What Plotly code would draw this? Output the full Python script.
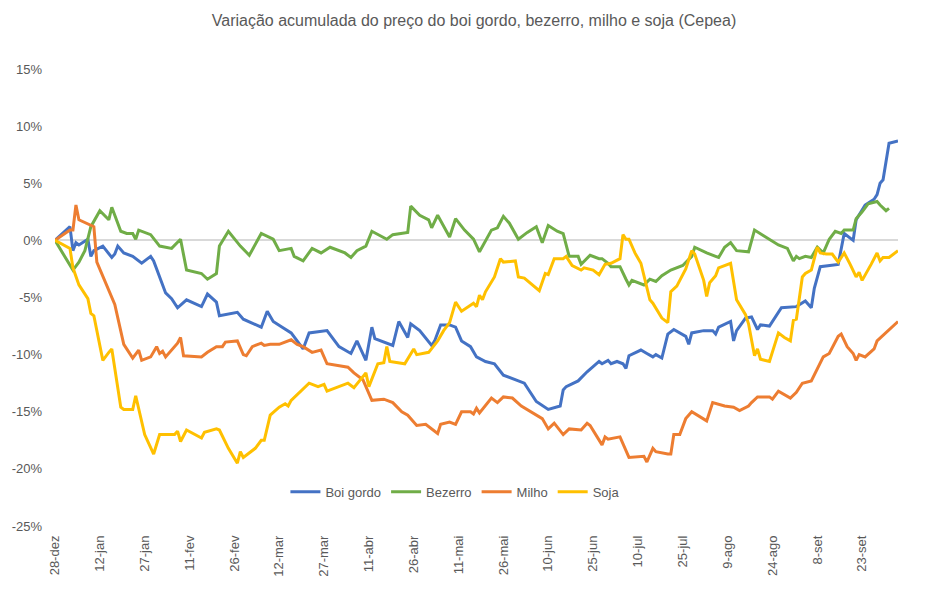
import pandas as pd
import plotly.graph_objects as go

# dias contados a partir de 28-dez
inicio = pd.Timestamp("2022-12-28")

dias_boi = [0, 5, 6, 7, 8, 11, 12, 13, 16, 19, 20, 21, 23, 26, 29, 32, 33, 37, 39, 41, 44, 49, 51, 54, 55,
            61, 63, 69, 71, 73, 76, 79, 83, 85, 91, 95, 99, 101, 104, 106, 107, 113, 115, 118, 119, 122,
            126, 127, 129, 132, 134, 136, 139, 141, 144, 147, 150, 157, 161, 165, 169, 170, 171, 175, 178,
            182, 183, 185, 186, 188, 190, 191, 192, 196, 198, 200, 201, 203, 205, 207, 211, 212, 213, 217,
            220, 221, 222, 226, 227, 228, 231, 233, 235, 236, 239, 243, 248, 251, 253, 254, 256, 262, 264,
            267, 268, 271, 274, 275, 276, 277, 279, 282]
boi_gordo = [0, 1.2, -0.9, -0.2, -0.4, 0.1, -1.4, -0.9, -0.5, -1.5, -1.2, -0.5, -1.1, -1.4, -2.0, -1.4, -1.8,
             -4.6, -5.1, -5.9, -5.2, -5.8, -4.7, -5.4, -6.6, -6.3, -6.9, -7.6, -6.2, -7.1, -7.6, -8.1, -9.5,
             -8.1, -7.9, -9.3, -9.9, -8.8, -10.5, -7.6, -8.6, -9.2, -7.1, -8.5, -7.3, -7.9, -9.2, -8.8, -7.4,
             -7.4, -7.6, -8.8, -9.3, -10.2, -10.6, -10.8, -11.8, -12.5, -14.1, -14.8, -14.5, -13.1, -12.8,
             -12.3, -11.5, -10.6, -10.8, -10.5, -10.8, -10.6, -10.8, -11.2, -10.1, -9.6, -9.9, -10.2, -10.0,
             -10.3, -8.2, -7.8, -8.4, -9.1, -8.1, -7.9, -7.9, -8.2, -7.6, -7.1, -8.8, -7.9, -6.8, -6.7, -7.8,
             -7.4, -7.5, -5.9, -5.8, -5.3, -5.9, -4.2, -2.3, -2.1, 0.6, 0.0, 1.8, 3.1, 3.6, 4.0, 5.0, 5.3,
             8.5, 8.7]

dias_bezerro = [0, 6, 8, 10, 12, 15, 18, 19, 22, 24, 26, 27, 28, 32, 35, 39, 42, 44, 49, 51, 54, 55, 58, 62,
                65, 69, 73, 75, 79, 80, 83, 86, 89, 92, 97, 99, 101, 104, 106, 111, 113, 118, 119, 122, 125,
                126, 128, 132, 134, 137, 140, 142, 146, 148, 150, 152, 155, 158, 161, 163, 165, 168, 170, 172,
                175, 176, 179, 182, 183, 185, 186, 189, 191, 192, 193, 197, 199, 201, 203, 206, 210, 213, 214,
                218, 221, 222, 224, 226, 228, 232, 234, 239, 242, 245, 247, 248, 249, 251, 253, 255, 257, 259,
                261, 263, 264, 267, 268, 270, 272, 275, 276, 278, 279]
bezerro = [0, -2.6, -1.9, -0.9, 1.2, 2.6, 1.8, 2.9, 0.8, 0.6, 0.6, 0.1, 0.9, 0.5, -0.5, -0.7, 0.1, -2.6, -2.9,
           -3.4, -2.9, -0.5, 0.8, -0.5, -1.3, 0.6, 0.1, -0.9, -0.7, -1.4, -1.8, -0.7, -1.1, -0.6, -1.1, -1.5,
           -0.9, -0.5, 0.8, 0.1, 0.5, 0.7, 3.0, 2.2, 1.8, 1.1, 2.2, 0.3, 1.9, 0.9, 0.1, -1.0, 0.9, 1.1, 2.1,
           1.5, 0.1, 0.7, 1.2, -0.2, 1.3, 0.8, 0.6, -1.4, -1.4, -2.1, -1.3, -1.6, -1.6, -2.0, -2.3, -2.3, -3.4,
           -3.9, -3.5, -3.9, -3.4, -3.6, -3.1, -2.6, -2.2, -1.4, -0.6, -1.1, -1.4, -1.5, -0.6, -0.2, -0.9,
           -1.0, 0.9, 0.1, -0.4, -0.7, -1.8, -1.4, -1.6, -1.4, -1.5, -0.6, -1.1, 0.1, 0.8, 0.6, 0.9, 0.9, 1.9,
           2.5, 3.2, 3.4, 3.1, 2.6, 2.8]

dias_milho = [0, 5, 6, 7, 8, 12, 13, 14, 16, 20, 23, 26, 28, 29, 32, 34, 35, 36, 37, 41, 42, 43, 49, 51, 54,
              56, 57, 61, 63, 64, 66, 69, 70, 72, 75, 77, 79, 81, 83, 86, 89, 91, 95, 98, 100, 103, 106, 110,
              113, 116, 118, 121, 124, 128, 129, 132, 134, 136, 139, 140, 141, 142, 146, 148, 150, 153, 156,
              161, 163, 165, 167, 170, 172, 176, 178, 179, 183, 184, 185, 189, 192, 197, 198, 200, 201, 205,
              206, 207, 209, 211, 213, 218, 220, 224, 227, 229, 232, 233, 235, 236, 239, 240, 242, 246, 248,
              250, 253, 257, 259, 262, 263, 265, 267, 268, 269, 271, 274, 275, 278, 282]
milho = [0, 0.9, 0.9, 3.1, 1.8, 1.3, 1.2, -1.9, -3.1, -5.6, -9.1, -10.3, -9.6, -10.5, -10.2, -9.3, -9.9, -9.7,
         -10.2, -9.0, -8.5, -10.1, -10.2, -9.8, -9.3, -9.3, -8.9, -8.8, -10.0, -10.1, -9.3, -9.0, -9.2, -9.1,
         -9.1, -8.9, -8.7, -9.1, -9.3, -9.8, -9.6, -10.8, -11.0, -11.1, -11.6, -12.2, -14.0, -13.9, -14.2,
         -15.0, -15.3, -16.2, -16.1, -16.9, -16.1, -15.9, -16.1, -15.0, -15.0, -15.2, -14.7, -15.1, -13.8,
         -14.2, -13.7, -13.8, -14.5, -15.3, -15.6, -16.5, -16.0, -17.0, -16.5, -16.6, -16.0, -16.2, -17.9,
         -17.2, -17.4, -17.2, -19.0, -18.9, -19.4, -18.2, -18.5, -18.7, -18.7, -17.0, -17.0, -15.6, -15.0,
         -15.8, -14.2, -14.5, -14.6, -14.9, -14.5, -14.2, -13.7, -13.7, -13.7, -13.9, -13.2, -13.8, -13.3,
         -12.5, -12.3, -10.2, -9.9, -8.4, -8.2, -9.3, -9.9, -10.5, -10.0, -10.2, -9.5, -8.8, -8.1, -7.1]

dias_soja = [0, 5, 6, 8, 11, 12, 13, 16, 18, 19, 22, 23, 26, 27, 30, 33, 35, 40, 41, 42, 44, 49, 50, 54, 55,
             57, 58, 61, 62, 63, 67, 69, 70, 72, 75, 77, 78, 79, 81, 85, 88, 90, 91, 94, 98, 100, 104, 105,
             108, 110, 111, 112, 117, 120, 121, 125, 128, 130, 132, 134, 136, 140, 141, 142, 143, 144, 147,
             149, 150, 154, 155, 157, 162, 164, 165, 167, 170, 171, 173, 176, 177, 180, 182, 184, 186, 189,
             190, 191, 192, 194, 196, 199, 200, 203, 205, 206, 208, 211, 213, 214, 217, 218, 219, 221, 222,
             226, 227, 228, 231, 232, 234, 235, 236, 239, 242, 244, 246, 247, 248, 250, 251, 253, 255, 256,
             258, 260, 262, 264, 266, 268, 269, 270, 273, 275, 276, 277, 279, 282]
soja = [0, -0.7, -2.4, -3.9, -5.1, -6.4, -6.6, -10.5, -9.8, -9.5, -14.6, -14.8, -14.8, -13.6, -17.0, -18.7,
        -17.0, -17.0, -16.7, -17.6, -16.6, -17.3, -16.8, -16.5, -16.6, -17.6, -18.2, -19.5, -18.5, -19.0,
        -18.2, -17.5, -17.5, -15.3, -14.6, -14.3, -14.5, -14.0, -13.5, -12.5, -12.8, -12.6, -13.2, -12.9,
        -12.5, -12.9, -11.6, -12.8, -10.8, -10.7, -9.3, -10.6, -10.8, -9.5, -10.0, -9.8, -8.8, -7.9, -7.2,
        -5.4, -6.2, -5.5, -5.8, -4.8, -5.2, -4.5, -3.2, -1.6, -1.9, -1.8, -3.2, -3.3, -4.4, -2.9, -3.0, -1.6,
        -1.6, -1.4, -2.2, -2.6, -2.4, -2.6, -3.0, -2.1, -2.0, -1.6, 0.5, 0.1, 0.1, -1.1, -2.0, -5.2, -5.5,
        -6.8, -7.2, -4.5, -4.0, -2.5, -0.9, -1.2, -3.5, -4.9, -3.7, -3.1, -2.4, -2.0, -3.5, -5.2, -6.5, -7.3,
        -10.1, -9.5, -10.4, -10.6, -8.1, -8.5, -8.8, -7.0, -6.9, -3.2, -2.9, -2.6, -0.6, -1.1, -1.2, -1.2,
        -1.9, -1.1, -2.1, -3.2, -2.8, -3.5, -2.1, -1.1, -1.8, -1.5, -1.5, -0.9]

rotulos_x = ["28-dez", "12-jan", "27-jan", "11-fev", "26-fev", "12-mar", "27-mar", "11-abr", "26-abr",
             "11-mai", "26-mai", "10-jun", "25-jun", "10-jul", "25-jul", "9-ago", "24-ago", "8-set", "23-set"]
valores_y = [-0.25, -0.20, -0.15, -0.10, -0.05, 0, 0.05, 0.10, 0.15]
rotulos_y = ["-25%", "-20%", "-15%", "-10%", "-5%", "0%", "5%", "10%", "15%"]


def datas(dias):
    return inicio + pd.to_timedelta(dias, unit="D")


series = [
    ("Boi gordo", dias_boi, boi_gordo, "#4472C4"),
    ("Bezerro", dias_bezerro, bezerro, "#70AD47"),
    ("Milho", dias_milho, milho, "#ED7D31"),
    ("Soja", dias_soja, soja, "#FFC000"),
]

fig = go.Figure()
for nome, dias, valores, cor in series:
    fig.add_trace(go.Scatter(
        x=datas(dias), y=[v / 100 for v in valores], name=nome, mode="lines",
        line=dict(color=cor, width=3)
    ))

ticks_x = datas([15 * i for i in range(len(rotulos_x))])
fonte = "Liberation Sans, Arial, sans-serif"

fig.update_layout(
    width=948, height=589,
    margin=dict(l=50, r=50, t=69, b=52),
    paper_bgcolor="white", plot_bgcolor="white",
    font=dict(family=fonte, size=13, color="#595959"),
    title=dict(text="Variação acumulada do preço do boi gordo, bezerro, milho e soja (Cepea)",
               x=0.5, xanchor="center", y=0.965, yanchor="middle",
               font=dict(size=16, color="#595959")),
    xaxis=dict(type="date", range=[datas([0])[0], datas([282])[0]],
               tickvals=ticks_x, ticktext=rotulos_x, tickangle=-90,
               showgrid=False, showline=False, zeroline=False,
               ticks="", ticklabelstandoff=6, tickfont=dict(size=13)),
    yaxis=dict(range=[-0.25, 0.15], tickvals=valores_y, ticktext=rotulos_y,
               showgrid=False, showline=False, zeroline=True,
               zerolinecolor="#D9D9D9", zerolinewidth=1.5,
               ticks="", ticklabelstandoff=12, tickfont=dict(size=13)),
    legend=dict(orientation="h", x=0.475, y=0.075, xanchor="center", yanchor="middle",
                font=dict(size=13, color="#595959"), bgcolor="rgba(0,0,0,0)"),
    showlegend=True,
)

fig.write_html("out.html", config={"displayModeBar": False},
               post_script="document.body.style.margin='0';")
